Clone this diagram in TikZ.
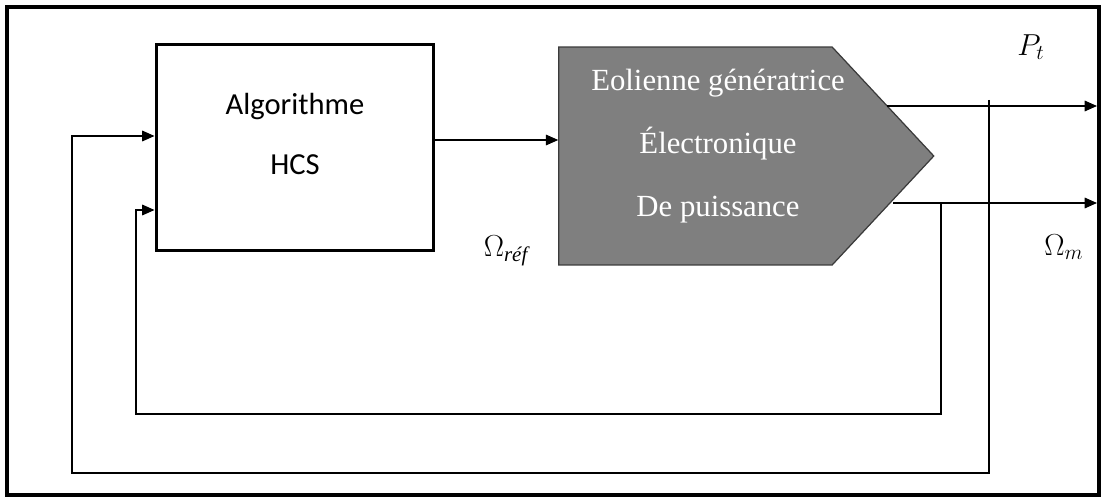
\documentclass[tikz,border=0pt]{standalone}
\usepackage{fontspec}
\setmainfont{Liberation Serif}
\newfontfamily\algofont{Carlito}
\usepackage{amsmath}
\usetikzlibrary{arrows.meta,positioning,shapes.symbols,calc}

\definecolor{genfill}{HTML}{7F7F7F}
\definecolor{genedge}{HTML}{3A3A3A}

\begin{document}
\begin{tikzpicture}[x=0.02cm, y=-0.02cm,
  algo/.style={draw, line width=1.7pt, minimum width=5.56cm, minimum height=4.14cm},
  gen/.style={signal, signal to=east, signal from=nowhere, signal pointer angle=94,
              draw=genedge, fill=genfill, line width=0.7pt, inner sep=0pt,
              minimum width=7.5cm, minimum height=4.36cm},
  sig/.style={line width=0.8pt, -{Triangle[length=7pt,width=6pt]}},
  wire/.style={line width=0.8pt},
  lbl/.style={font=\fontsize{17}{20}\selectfont}]
  \useasboundingbox (0,0) rectangle (1105,500);
  \draw[line width=2pt] (7,7) rectangle (1099,495);
  % blocks
  \node[algo] (hcs) at (295,147.5) {};
  \node[font=\algofont\fontsize{17.4}{34}\selectfont, align=center] (hcstxt) at (295,134) {Algorithme\\HCS};
  \node[gen] (eol) at (695.5,156) {};
  \node[font=\fontsize{17.5}{36}\selectfont, text=white, align=center] (eoltxt) at (718,146)
    {Eolienne génératrice\\Électronique\\De puissance};
  % reference speed
  \coordinate (ref) at ($(hcs.east)+(0,-7.5)$);
  \draw[sig] (ref) -- (ref -| eol.west);
  % outputs
  \coordinate (pt) at (887,106);
  \coordinate (wm) at (893,203);
  \draw[sig] (pt) -- (1097,106);
  \draw[sig] (wm) -- (1097,203);
  % feedback loops
  \coordinate (in1) at ($(hcs.west)+(0,-11.5)$);
  \coordinate (in2) at ($(hcs.west)+(0,62.5)$);
  \draw[sig] (989,100) |- (72,473) |- (in1);
  \draw[sig] (941,203) |- (136,414) |- (in2);
  % labels
  \node[lbl] (ptlbl) at (1031,47) {$P_t$};
  \node[lbl] (wmlbl) at (1064,247) {$\Omega_m$};
  \node[lbl] (reflbl) at (506,251) {$\Omega_{\textit{réf}}$};
\end{tikzpicture}
\end{document}
